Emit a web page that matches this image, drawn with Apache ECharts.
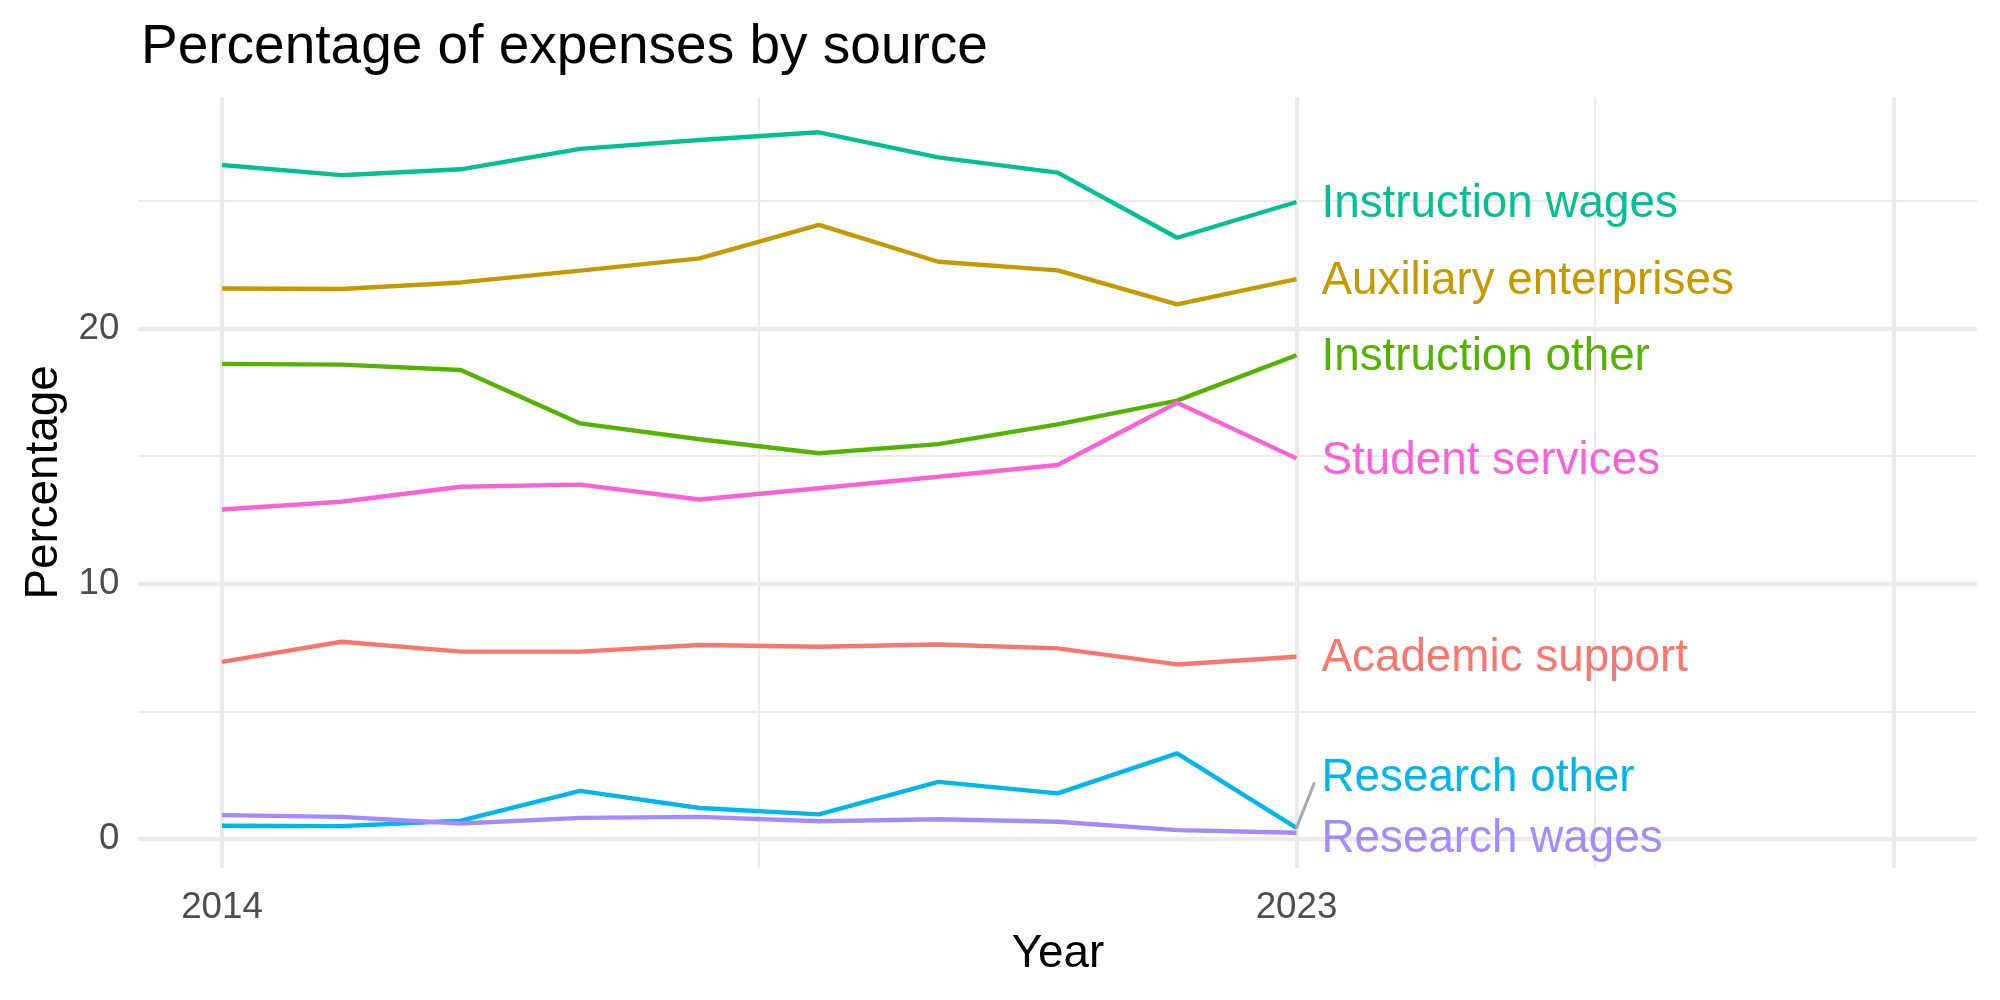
<!DOCTYPE html>
<html>
<head>
<meta charset="utf-8">
<title>Percentage of expenses by source</title>
<script src="https://cdn.jsdelivr.net/npm/echarts@6/dist/echarts.min.js"></script>
<style>
  html, body { margin: 0; padding: 0; background: #fff; }
  #main { width: 2000px; height: 1000px; }
</style>
</head>
<body>
<div id="main"></div>
<script type="text/javascript">
// data
var years = [2014, 2015, 2016, 2017, 2018, 2019, 2020, 2021, 2022, 2023];
var academicSupport      = [6.94, 7.73, 7.34, 7.34, 7.60, 7.53, 7.62, 7.47, 6.84, 7.14];
var auxiliaryEnterprises = [21.56, 21.54, 21.80, 22.26, 22.74, 24.05, 22.61, 22.27, 20.94, 21.93];
var instructionOther     = [18.61, 18.58, 18.37, 16.28, 15.66, 15.11, 15.47, 16.24, 17.17, 18.95];
var instructionWages     = [26.40, 26.00, 26.23, 27.03, 27.38, 27.68, 26.70, 26.10, 23.55, 24.95];
var researchOther        = [0.52, 0.51, 0.72, 1.89, 1.22, 0.97, 2.24, 1.79, 3.36, 0.44];
var researchWages        = [0.94, 0.87, 0.61, 0.83, 0.87, 0.70, 0.78, 0.68, 0.35, 0.25];
var studentServices      = [12.91, 13.21, 13.80, 13.88, 13.30, 13.74, 14.19, 14.65, 17.09, 14.91];

var xTickLabels = [2014, 2023];
var yTickLabels = [0, 10, 20];
var xMajorGrid = [2014, 2023, 2028];
var xMinorGrid = [2018.5, 2025.5];
var yMajorGrid = [0, 10, 20];
var yMinorGrid = [5, 15, 25];

var FONT = '"Liberation Sans", Arial, Helvetica, sans-serif';

var myChart = echarts.init(document.getElementById('main'));

function makeLine(name, values, color, dy) {
    return {
        name: name,
        type: 'line',
        z: 3,
        data: years.map(function (y, i) { return [y, values[i]]; }),
        showSymbol: false,
        symbol: 'none',
        color: color,
        lineStyle: { width: 4.4, color: color },
        endLabel: {
            show: true,
            formatter: '{a}',
            color: color,
            fontSize: 45.8,
            fontFamily: FONT,
            distance: 25,
            offset: [0, dy]
        }
    };
}

// grid lines drawn through the axes
var gridLines = [];
xMajorGrid.forEach(function (v) { gridLines.push({ xAxis: v, lineStyle: { width: 4.3 } }); });
xMinorGrid.forEach(function (v) { gridLines.push({ xAxis: v, lineStyle: { width: 2.2 } }); });
yMajorGrid.forEach(function (v) { gridLines.push({ yAxis: v, lineStyle: { width: 4.3 } }); });
yMinorGrid.forEach(function (v) { gridLines.push({ yAxis: v, lineStyle: { width: 2.2 } }); });

myChart.setOption({
    animation: false,
    textStyle: { fontFamily: FONT },
    grid: { left: 138.4, right: 23, top: 97.3, bottom: 132.3 },
    xAxis: {
        type: 'value',
        min: 2013.3,
        max: 2028.7,
        axisLine: { show: false },
        axisTick: { show: false },
        splitLine: { show: false },
        axisLabel: {
            customValues: xTickLabels,
            formatter: function (v) { return String(v); },
            color: '#4D4D4D',
            fontSize: 36.7,
            fontFamily: FONT,
            margin: 22
        }
    },
    yAxis: {
        type: 'value',
        min: -1.12,
        max: 29.05,
        axisLine: { show: false },
        axisTick: { show: false },
        splitLine: { show: false },
        axisLabel: {
            customValues: yTickLabels,
            color: '#4D4D4D',
            fontSize: 36.7,
            fontFamily: FONT,
            margin: 19
        }
    },
    graphic: [
        {
            id: 'title', type: 'text', x: 141, y: 48,
            style: { text: 'Percentage of expenses by source', fontSize: 55, fontFamily: FONT, fill: '#000', verticalAlign: 'middle' }
        },
        {
            id: 'xname', type: 'text', x: 1058, y: 954,
            style: { text: 'Year', fontSize: 45.8, fontFamily: FONT, fill: '#000', align: 'center', verticalAlign: 'middle' }
        },
        {
            id: 'yname', type: 'text', x: 44, y: 482.5, rotation: Math.PI / 2,
            style: { text: 'Percentage', fontSize: 45.8, fontFamily: FONT, fill: '#000', align: 'center', verticalAlign: 'middle' }
        }
    ],
    series: [
        {
            name: 'grid',
            type: 'line',
            z: 1,
            data: [],
            markLine: {
                z: 1,
                silent: true,
                symbol: ['none', 'none'],
                label: { show: false },
                lineStyle: { color: '#EBEBEB', type: 'solid' },
                emphasis: { disabled: true },
                data: gridLines
            }
        },
        makeLine('Academic support', academicSupport, '#F8766D', 2),
        makeLine('Auxiliary enterprises', auxiliaryEnterprises, '#C49A00', 2),
        makeLine('Instruction other', instructionOther, '#53B400', 2),
        makeLine('Instruction wages', instructionWages, '#00C094', 2),
        makeLine('Research other', researchOther, '#00B6EB', -49),
        makeLine('Research wages', researchWages, '#A58AFF', 7),
        makeLine('Student services', studentServices, '#FB61D7', 3)
    ]
});

// leader segment from the last "Research other" point to its moved label
var last = years.length - 1;
var p = myChart.convertToPixel({ gridIndex: 0 }, [years[last], researchOther[last]]);
myChart.setOption({
    graphic: [{
        id: 'leader',
        type: 'line',
        z: 4,
        shape: { x1: p[0], y1: p[1], x2: p[0] + 17.6, y2: p[1] - 44.4 },
        style: { stroke: '#A8A8A8', lineWidth: 3, lineCap: 'round' }
    }]
});
</script>
</body>
</html>
